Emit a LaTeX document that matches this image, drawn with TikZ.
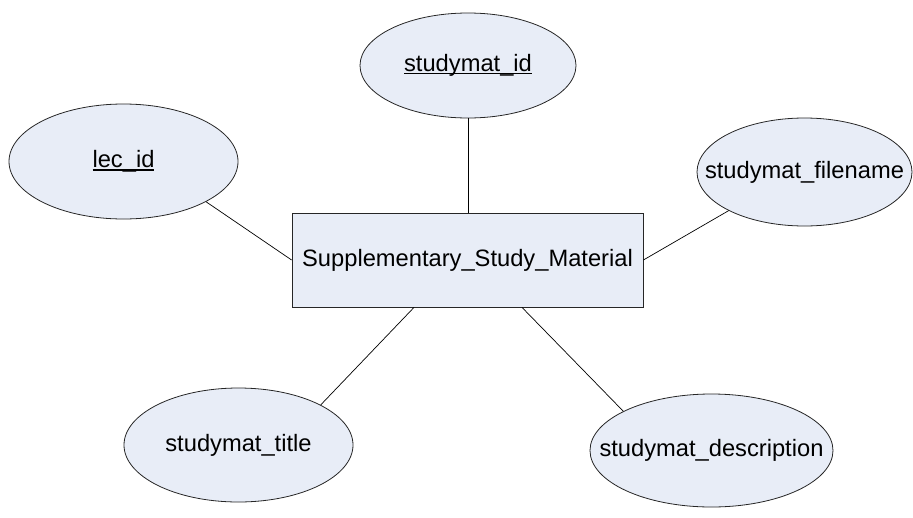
\documentclass[tikz,border=0pt]{standalone}
\usepackage{fontspec}
\setmainfont{Liberation Sans}
\usetikzlibrary{shapes.geometric}
\definecolor{attrfill}{RGB}{232,237,247}
\newcommand\erul[1]{\setbox0\hbox{#1}\rlap{\rule[-2.8pt]{\wd0}{1.3pt}}\box0}
\tikzset{
  attr/.style={ellipse, draw=black!85, line width=0.8pt, fill=attrfill, inner sep=0pt,
    font=\fontsize{23.7pt}{28pt}\selectfont},
  entity/.style={rectangle, draw=black!85, line width=0.8pt, fill=attrfill, inner sep=0pt,
    minimum width=351pt, minimum height=94pt, font=\fontsize{23.7pt}{28pt}\selectfont},
  link/.style={draw=black, line width=0.7pt}
}
\begin{document}
\begin{tikzpicture}[x=1pt,y=-1pt]
\useasboundingbox (0,0) rectangle (913,517);
\node[entity] (ssm) at (467.5,260) {Supplementary\_Study\_Material};
\node[attr, minimum width=229pt, minimum height=115pt] (lec) at (123.5,161.5) {\makebox[0pt]{\erul{lec\_id}}};
\node[attr, minimum width=216pt, minimum height=105pt] (sid) at (468,65.5) {\makebox[0pt]{\erul{studymat\_id}}};
\node[attr, minimum width=215pt, minimum height=108pt] (sfn) at (804.5,172) {\makebox[0pt]{studymat\_filename}};
\node[attr, minimum width=229pt, minimum height=114pt] (stt) at (238.5,445) {\makebox[0pt]{studymat\_title}};
\node[attr, minimum width=243pt, minimum height=113pt] (sds) at (711.5,450.5) {\makebox[0pt]{studymat\_description}};
\draw[link] (sid.south) -- (sid.south |- ssm.north);
\draw[link] (lec.-26.4) -- (ssm.west);
\draw[link] (sfn.207.6) -- (ssm.east);
\draw[link] (stt.26.4) -- ([xshift=-53.5pt]ssm.south);
\draw[link] (sds.156.3) -- ([xshift=54.5pt]ssm.south);
\end{tikzpicture}
\end{document}
